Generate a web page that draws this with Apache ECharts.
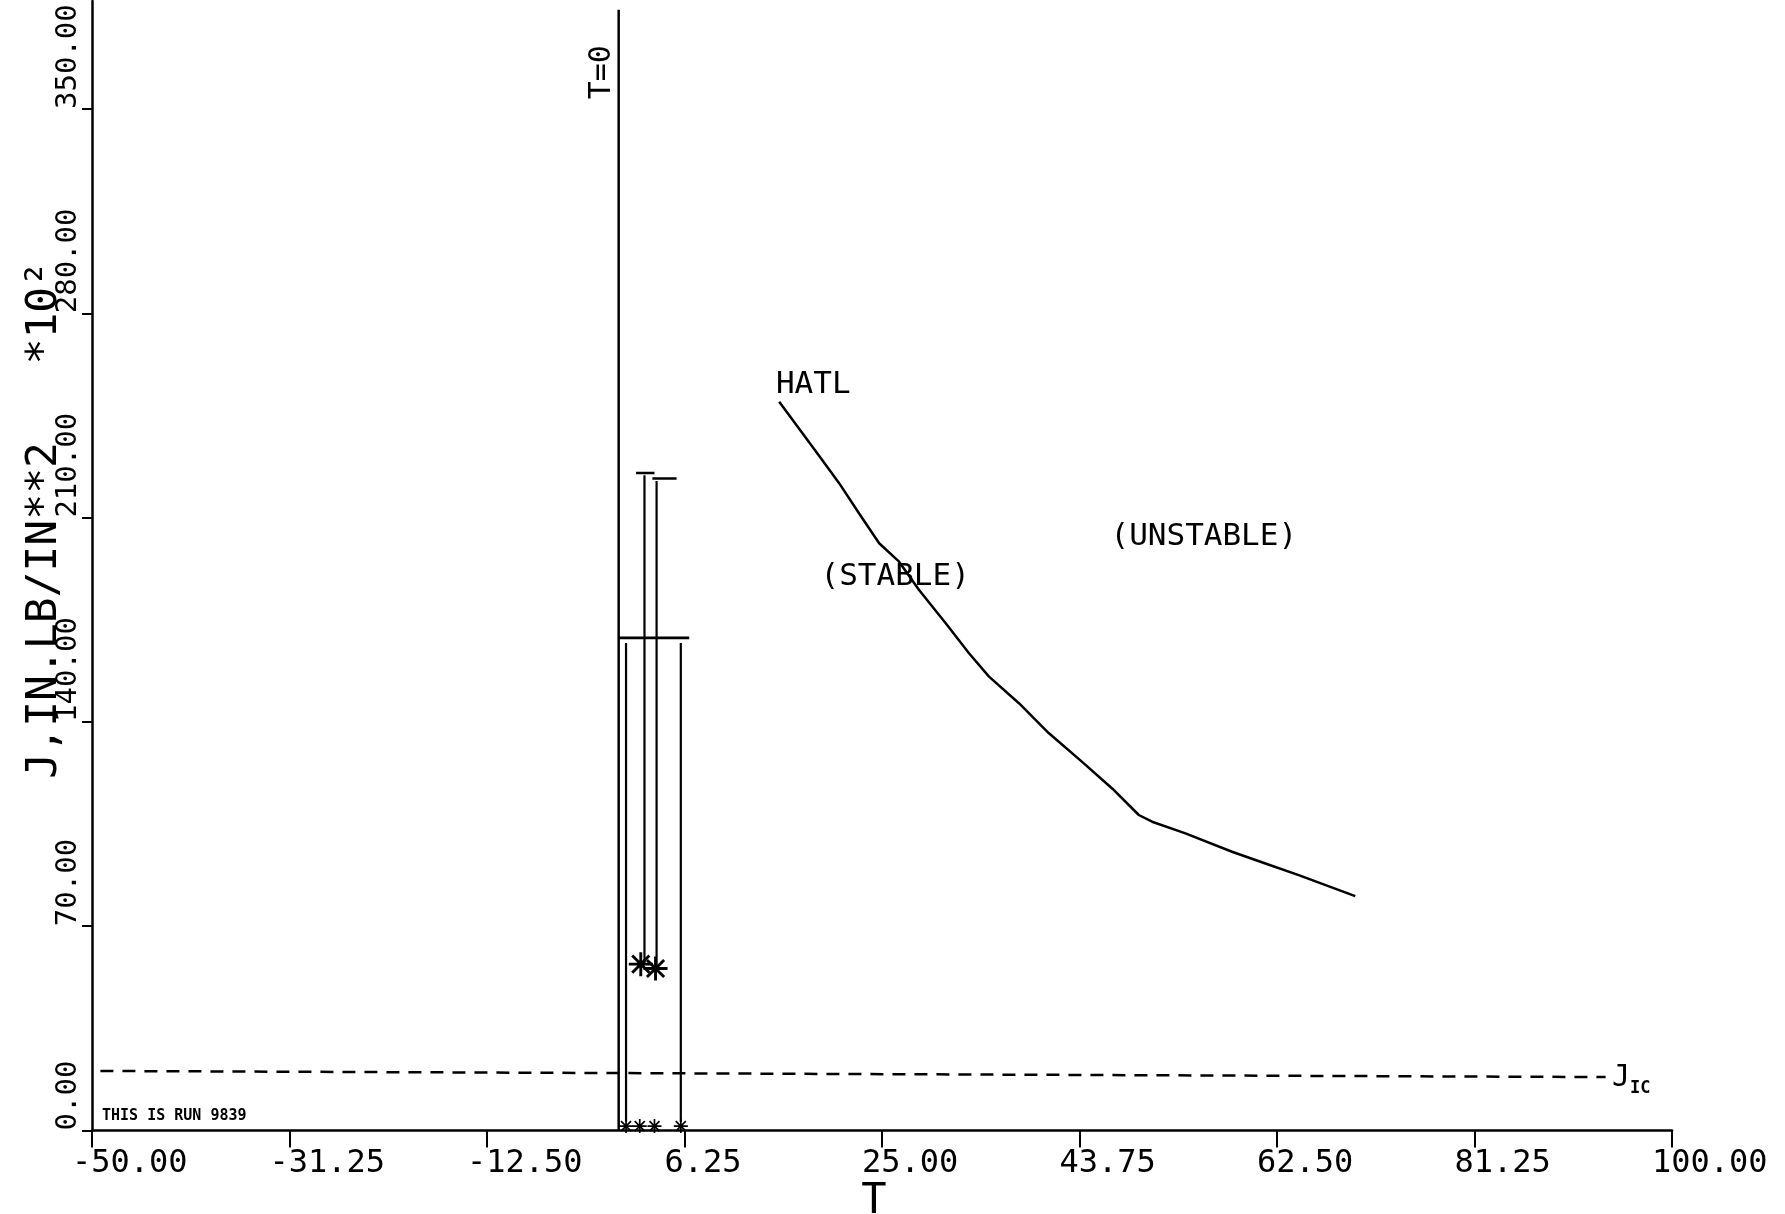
<!DOCTYPE html>
<html><head><meta charset="utf-8">
<script src="https://cdn.jsdelivr.net/npm/echarts@6/dist/echarts.min.js"></script>
<style>html,body{margin:0;padding:0;background:#fff}#c{width:1785px;height:1214px}</style>
</head><body><div id="c"></div>
<script>
// ---- data ----
const xTicks = [-50, -31.25, -12.5, 6.25, 25, 43.75, 62.5, 81.25, 100];
const yTicks = [0, 70, 140, 210, 280, 350];
const hatlT = [15.24, 17.45, 19.20, 20.93, 22.83, 24.73, 26.62, 28.52, 31.05, 33.26, 35.16, 38.0, 40.85, 44.0, 46.85, 49.38, 50.64, 53.81, 58.23, 61.4, 64.56, 69.93];
const hatlJ = [249.7, 238.9, 230.3, 221.8, 211.4, 201.2, 194.9, 185.2, 173.8, 163.5, 155.5, 146.4, 136.1, 126.3, 117.2, 108.1, 105.8, 101.8, 95.5, 91.5, 87.5, 80.3];
const tZeroT = [0, 0];
const tZeroJ = [0, 384];
const jicT = [-49.2, 93.7];
const jicJ = [20.4, 18.3];
const barT = [0.7, 5.9, 2.45, 3.6];
const barLow = [3, 3, 57, 55.5];
const barHigh = [167, 167, 224.5, 222.5];
const capJ = [168.8, 225.3, 223.4];
const capFrom = [0.05, 1.65, 3.2];
const capTo = [6.7, 3.4, 5.5];
const starT = [2.1, 3.5];
const starJ = [57, 55.5];
const baseMarkT = [0.7, 2.0, 3.4, 5.9];
const baseMarkJ = [1.5, 1.5, 1.5, 1.5];
const noteText = ['HATL', '(STABLE)', '(UNSTABLE)'];
const noteT = [18.47, 26.25, 55.55];
const noteJ = [255.3, 189.6, 203.3];

// ---- chart ----
const FONT = 'DejaVu Sans Mono';
const INK = '#000';
const chart = echarts.init(document.getElementById('c'), null, {renderer: 'canvas'});
const zip = (a, b) => a.map((v, i) => [v, b[i]]);
const segStyle = (w, type) => ({type: 'line', symbol: 'none', silent: true, animation: false,
  lineStyle: {color: INK, width: w, type: type || 'solid', opacity: 1}});
const series = [];
series.push(Object.assign(segStyle(2.5), {data: zip(hatlT, hatlJ)}));
series.push(Object.assign(segStyle(2.5), {data: zip(tZeroT, tZeroJ)}));
series.push(Object.assign(segStyle(2.5, [13, 9]), {data: zip(jicT, jicJ)}));
barT.forEach((t, i) => series.push(Object.assign(segStyle(2.2), {data: [[t, barLow[i]], [t, barHigh[i]]]})));
capJ.forEach((j, i) => series.push(Object.assign(segStyle(2.6), {data: [[capFrom[i], j], [capTo[i], j]]})));
const STAR = 'path://M8.8,0H11.2V20H8.8Z M0,8.8H20V11.2H0Z M2.0,3.7L3.7,2.0L18,16.3L16.3,18Z M16.3,2.0L18,3.7L3.7,18L2.0,16.3Z';
const txt = (size, extra) => Object.assign({show: true, position: [0, 0], fontFamily: FONT, fontSize: size,
  color: INK, opacity: 1, formatter: p => p.name}, extra);
series.push({type: 'scatter', symbol: STAR, symbolSize: 24, itemStyle: {color: INK, opacity: 1}, data: zip(starT, starJ), silent: true});
series.push({type: 'scatter', symbol: STAR, symbolSize: 14, itemStyle: {color: INK, opacity: 1}, data: zip(baseMarkT, baseMarkJ), silent: true});
// text annotations
series.push({type: 'scatter', symbolSize: 0, silent: true, itemStyle: {opacity: 1},
  data: noteText.map((s, i) => ({value: [noteT[i], noteJ[i]], name: s})),
  label: txt(31, {align: 'center', verticalAlign: 'middle'})});
series.push({type: 'scatter', symbolSize: 0, silent: true, itemStyle: {opacity: 1},
  data: [{value: [-1.6, 362.6], name: 'T=0'}],
  label: txt(30, {align: 'center', verticalAlign: 'middle', rotate: 90})});
series.push({type: 'scatter', symbolSize: 0, silent: true, itemStyle: {opacity: 1},
  data: [{value: [94.3, 18.0], name: 'JIC'}],
  label: {show: true, position: [0, 0], align: 'left', verticalAlign: 'middle', formatter: '{j|J}{s|IC}',
    rich: {j: {fontFamily: FONT, fontSize: 30, color: INK, verticalAlign: 'bottom'},
           s: {fontFamily: FONT, fontSize: 17, fontWeight: 'bold', color: INK, verticalAlign: 'bottom', padding: [0, 0, -4, 0]}}}});
series.push({type: 'scatter', symbolSize: 0, silent: true, itemStyle: {opacity: 1},
  data: [{value: [-49.05, 5.1], name: 'THIS IS RUN 9839'}],
  label: txt(15, {align: 'left', verticalAlign: 'middle', fontWeight: 'bold'})});

chart.setOption({
  animation: false,
  backgroundColor: '#fff',
  grid: {left: 92, right: 113, top: 1, bottom: 83.5, containLabel: false, outerBoundsMode: 'none'},
  xAxis: {
    type: 'value', min: -50, max: 100,
    axisLine: {show: true, onZero: false, lineStyle: {color: INK, width: 2.5}},
    axisTick: {show: true, customValues: xTicks, length: 17, lineStyle: {color: INK, width: 2}},
    axisLabel: {customValues: xTicks, formatter: v => Number(v).toFixed(2), fontFamily: FONT, fontSize: 32,
      color: INK, align: 'left', padding: [0, 0, 0, -20], margin: 17},
    splitLine: {show: false},
    name: 'T', nameLocation: 'middle', nameGap: 51, nameMoveOverlap: false,
    nameTextStyle: {fontFamily: FONT, fontSize: 42, color: INK, padding: [0, 16, 0, 0]}
  },
  yAxis: {
    type: 'value', min: 0, max: 387,
    axisLine: {show: true, onZero: false, lineStyle: {color: INK, width: 2.5}},
    axisTick: {show: true, customValues: yTicks, length: 10, lineStyle: {color: INK, width: 2}},
    axisLabel: {customValues: yTicks, formatter: v => Number(v).toFixed(2), fontFamily: FONT, fontSize: 29,
      color: INK, rotate: 90, align: 'left', verticalAlign: 'bottom', margin: 9},
    splitLine: {show: false},
    name: 'J,IN.LB/IN**2   *10²', nameLocation: 'middle', nameRotate: 90, nameGap: 26, nameMoveOverlap: false,
    nameTextStyle: {fontFamily: FONT, fontSize: 43, color: INK, padding: [0, 0, 0, 92]}
  },
  series: series
});
</script></body></html>
